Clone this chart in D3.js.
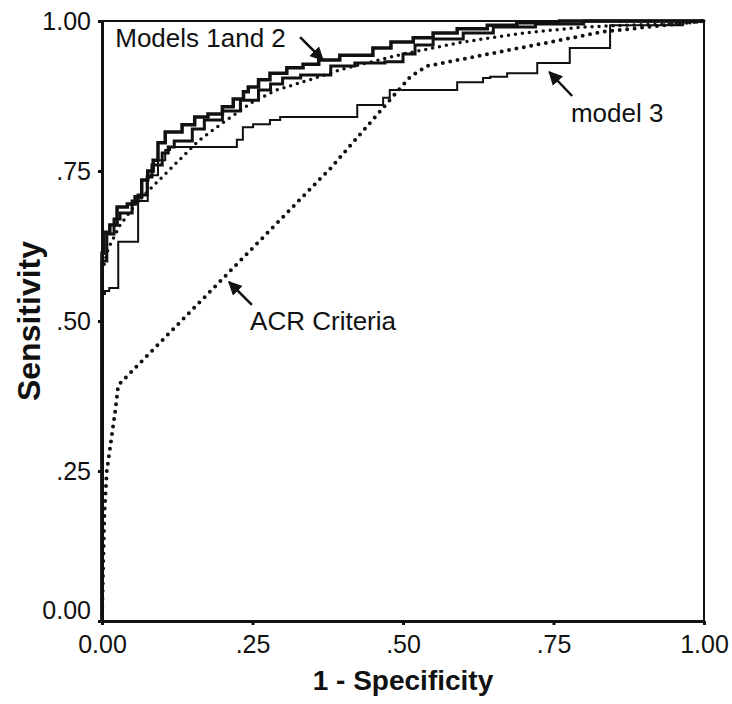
<!DOCTYPE html>
<html>
<head>
<meta charset="utf-8">
<title>ROC curves</title>
<style type="text/css">
	body { margin: 0; background: #fff; }
	svg text { font-family: "Liberation Sans", Arial, Helvetica, sans-serif; fill: #111; }
	.frame { fill: none; stroke: #111; stroke-width: 2; }
	.axis path, .axis line { stroke: #111; }
	.axis path { stroke-width: 3; }
	.axis line { stroke-width: 3; }
	.curve { fill: none; stroke: #111; stroke-linejoin: miter; }
	.dotted { fill: none; stroke: #111; stroke-linecap: round; }
</style>
</head>
<body>
<div id="chart"></div>
<script src="https://d3js.org/d3.v7.min.js"></script>
<script type="text/javascript">
	// tick values on both axes
	var ticks = [0, 0.25, 0.5, 0.75, 1];
	var tickLabels = ["0.00", ".25", ".50", ".75", "1.00"];

	// 1 - specificity, sensitivity pairs
	var model1 = [[0,0],[0,0.61],[0.003,0.613],[0.013,0.648],[0.025,0.66],[0.042,0.69],[0.055,0.695],[0.066,0.707],
		[0.076,0.735],[0.085,0.75],[0.093,0.768],[0.105,0.797],[0.133,0.815],[0.154,0.827],[0.176,0.84],[0.2,0.845],
		[0.218,0.857],[0.235,0.87],[0.243,0.882],[0.26,0.89],[0.279,0.902],[0.307,0.913],[0.334,0.922],[0.36,0.928],
		[0.395,0.935],[0.45,0.943],[0.48,0.955],[0.517,0.965],[0.55,0.972],[0.59,0.98],[0.64,0.987],[0.689,0.993],
		[0.76,0.997],[0.827,1],[1,1]];
	var model2 = [[0,0],[0,0.59],[0.008,0.6],[0.008,0.64],[0.02,0.645],[0.03,0.67],[0.05,0.68],[0.06,0.7],
		[0.075,0.71],[0.083,0.74],[0.1,0.76],[0.11,0.78],[0.12,0.79],[0.15,0.8],[0.17,0.82],[0.2,0.835],
		[0.23,0.85],[0.26,0.868],[0.28,0.885],[0.3,0.895],[0.33,0.905],[0.38,0.91],[0.42,0.925],[0.47,0.93],
		[0.5,0.932],[0.52,0.945],[0.55,0.96],[0.6,0.97],[0.65,0.98],[0.72,0.99],[0.8,0.995],[0.88,1],[1,1]];
	var model2Fit = [[0,0],[0,0.58],[0.01,0.62],[0.03,0.66],[0.06,0.7],[0.09,0.73],[0.12,0.76],[0.16,0.8],
		[0.2,0.83],[0.25,0.865],[0.29,0.885],[0.345,0.902],[0.4,0.92],[0.5,0.945],[0.6,0.965],[0.7,0.98],
		[0.8,0.99],[0.9,0.994],[0.96,0.995],[1,1]];
	var model3 = [[0,0],[0,0.543],[0.005,0.545],[0.012,0.55],[0.027,0.555],[0.027,0.623],[0.06,0.632],[0.06,0.673],
		[0.076,0.7],[0.093,0.743],[0.105,0.768],[0.113,0.785],[0.13,0.79],[0.224,0.79],[0.234,0.802],[0.251,0.823],
		[0.279,0.828],[0.296,0.835],[0.317,0.84],[0.424,0.84],[0.424,0.86],[0.467,0.86],[0.478,0.872],[0.5,0.885],
		[0.59,0.885],[0.59,0.898],[0.633,0.898],[0.645,0.905],[0.673,0.907],[0.723,0.913],[0.723,0.93],[0.777,0.93],
		[0.777,0.947],[0.789,0.955],[0.844,0.955],[0.844,0.99],[0.965,0.993],[0.977,1],[1,1]];
	var acrCriteria = [[0,0],[0.002,0.1],[0.004,0.18],[0.008,0.25],[0.015,0.3],[0.022,0.35],[0.027,0.393],
		[0.2,0.57],[0.38,0.755],[0.478,0.868],[0.512,0.907],[0.54,0.925],[0.832,0.982],[1,1]];

	// label text, arrow tail and tip, in data units
	var notes = [
		{ text: "Models 1and 2", x: 0.022, y: 0.957, from: [0.329, 0.973], to: [0.367, 0.935] },
		{ text: "model 3", x: 0.779, y: 0.832, from: [0.781, 0.875], to: [0.743, 0.915] },
		{ text: "ACR Criteria", x: 0.246, y: 0.485, from: [0.249, 0.527], to: [0.211, 0.565] }
	];

	var width = 732, height = 704,
		margin = { top: 21, right: 28, bottom: 83, left: 102 };

	var svg = d3.select("#chart").append("svg")
		.attr("width", width)
		.attr("height", height);

	var x = d3.scaleLinear().domain([0, 1]).range([margin.left, width - margin.right]),
		y = d3.scaleLinear().domain([0, 1]).range([height - margin.bottom, margin.top]);

	svg.append("defs").append("marker")
		.attr("id", "head")
		.attr("viewBox", "0 0 10 10")
		.attr("refX", 9).attr("refY", 5)
		.attr("markerWidth", 14).attr("markerHeight", 14)
		.attr("markerUnits", "userSpaceOnUse")
		.attr("orient", "auto")
		.append("path")
		.attr("d", "M0,0 L10,5 L0,10 Z")
		.attr("fill", "#111");

	// box: top and right
	svg.append("path")
		.attr("class", "frame")
		.attr("d", "M" + x(0) + "," + y(1) + "H" + x(1) + "V" + y(0));

	var fmt = function(d) { return tickLabels[ticks.indexOf(d)]; };

	var xAxis = svg.append("g")
		.attr("class", "axis")
		.attr("transform", "translate(0," + y(0) + ")")
		.call(d3.axisBottom(x).tickValues(ticks).tickFormat(fmt).tickSize(4).tickSizeOuter(0));
	xAxis.selectAll("text")
		.attr("y", 14)
		.attr("font-size", 25)
		.attr("fill", "#111");

	var yAxis = svg.append("g")
		.attr("class", "axis")
		.attr("transform", "translate(" + x(0) + ",0)")
		.call(d3.axisLeft(y).tickValues(ticks).tickFormat(fmt).tickSize(4).tickSizeOuter(0));
	yAxis.selectAll("text")
		.attr("x", -11)
		.attr("dy", function(d) { return d === 0 ? "-0.1em" : "0.32em"; })
		.attr("font-size", 25)
		.attr("fill", "#111");
	svg.selectAll(".axis .domain").attr("stroke-width", 3);

	var line = d3.line()
		.x(function(d) { return x(d[0]); })
		.y(function(d) { return y(d[1]); });
	var stepLine = d3.line()
		.x(function(d) { return x(d[0]); })
		.y(function(d) { return y(d[1]); })
		.curve(d3.curveStepBefore);

	svg.append("path").datum(model3).attr("class", "curve")
		.attr("stroke-width", 2).attr("d", stepLine);
	svg.append("path").datum(model2).attr("class", "curve")
		.attr("stroke-width", 3).attr("d", stepLine);
	svg.append("path").datum(model1).attr("class", "curve")
		.attr("stroke-width", 3.5).attr("d", stepLine);
	svg.append("path").datum(model2Fit).attr("class", "dotted")
		.attr("stroke-width", 3.5).attr("stroke-dasharray", "0 7").attr("d", line);
	svg.append("path").datum(acrCriteria).attr("class", "dotted")
		.attr("stroke-width", 4).attr("stroke-dasharray", "0 7.5").attr("d", line);

	// annotations
	var note = svg.selectAll(".note").data(notes).enter().append("g").attr("class", "note");
	note.append("text")
		.attr("x", function(d) { return x(d.x); })
		.attr("y", function(d) { return y(d.y); })
		.attr("font-size", 26)
		.text(function(d) { return d.text; });
	note.append("line")
		.attr("x1", function(d) { return x(d.from[0]); })
		.attr("y1", function(d) { return y(d.from[1]); })
		.attr("x2", function(d) { return x(d.to[0]); })
		.attr("y2", function(d) { return y(d.to[1]); })
		.attr("stroke", "#111")
		.attr("stroke-width", 2.5)
		.attr("marker-end", "url(#head)");

	// axis titles
	svg.append("text")
		.attr("x", (x(0) + x(1)) / 2)
		.attr("y", 690)
		.attr("text-anchor", "middle")
		.attr("font-size", 28)
		.attr("font-weight", "bold")
		.text("1 - Specificity");
	svg.append("text")
		.attr("transform", "translate(40," + (y(0) + y(1)) / 2 + ") rotate(-90)")
		.attr("text-anchor", "middle")
		.attr("font-size", 32)
		.attr("font-weight", "bold")
		.text("Sensitivity");
</script>
</body>
</html>
